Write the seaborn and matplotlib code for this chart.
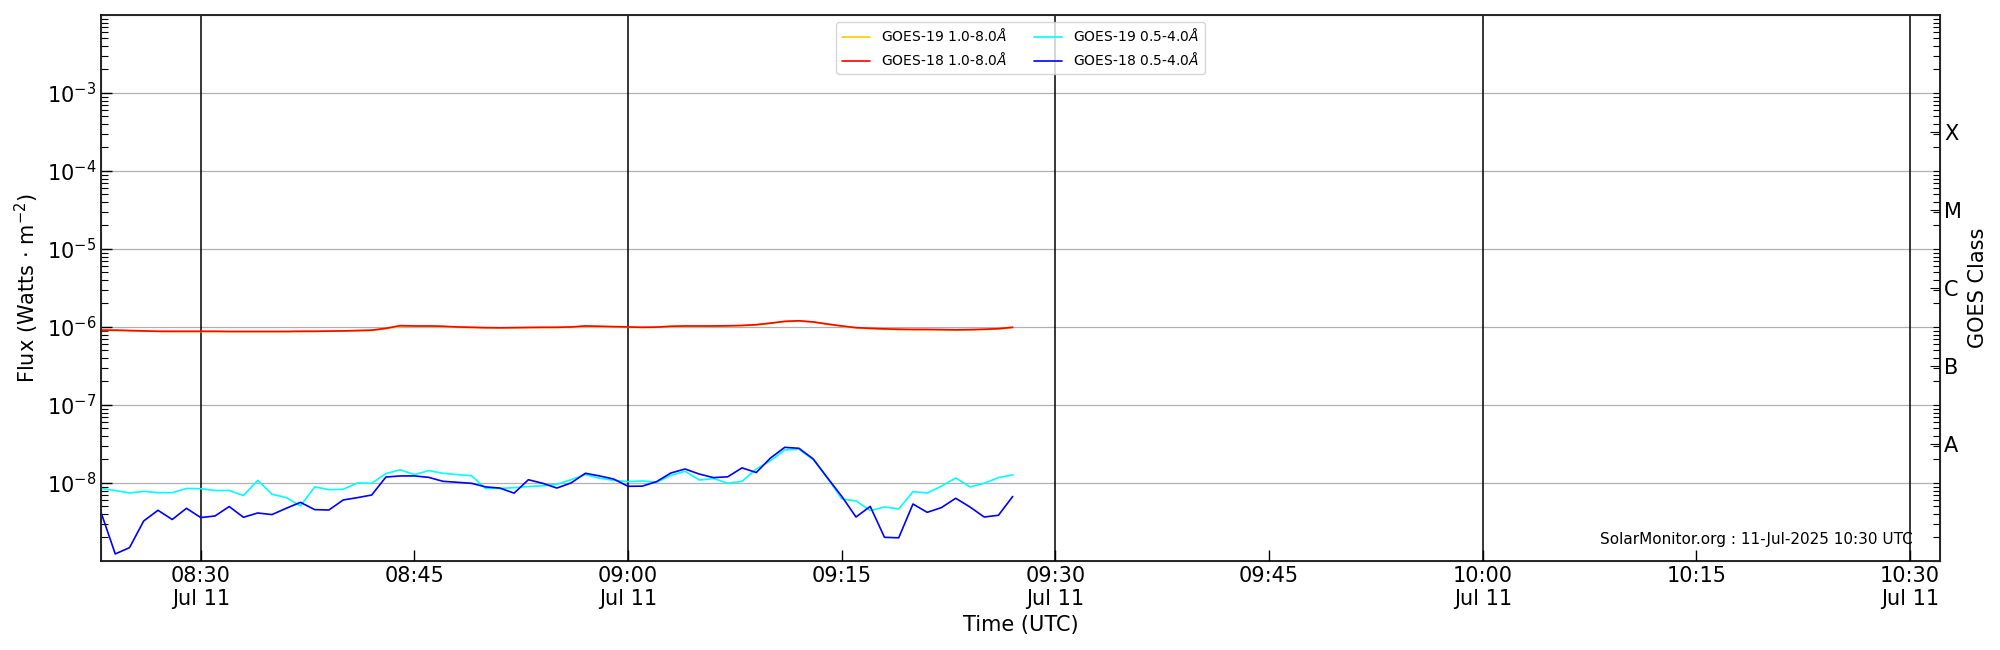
import matplotlib
matplotlib.use('Agg')
import matplotlib.pyplot as plt
import matplotlib.dates as mdates
from matplotlib.ticker import FixedLocator, LogLocator, NullFormatter
import numpy as np
import pandas as pd
import seaborn as sns

# 1-minute GOES XRS samples, 08:23 - 09:27 UTC on 11 Jul 2025
times = pd.date_range('2025-07-11 08:23', periods=65, freq='1min')

# GOES-19 1.0-8.0 A (x 1e-6 W/m^2)
g19_long = [0.90, 0.90, 0.89, 0.88, 0.875, 0.87, 0.87, 0.87, 0.87, 0.87,
            0.87, 0.87, 0.87, 0.87, 0.875, 0.875, 0.88, 0.885, 0.89, 0.90,
            0.95, 1.02, 1.02, 1.02, 1.01, 0.99, 0.98, 0.97, 0.97, 0.97,
            0.98, 0.98, 0.985, 0.99, 1.02, 1.01, 1.00, 0.99, 0.985, 0.99,
            1.01, 1.02, 1.02, 1.02, 1.03, 1.04, 1.06, 1.11, 1.17, 1.19,
            1.15, 1.08, 1.02, 0.97, 0.95, 0.935, 0.925, 0.92, 0.92, 0.915,
            0.91, 0.915, 0.925, 0.94, 0.98]
# GOES-18 1.0-8.0 A (x 1e-6 W/m^2)
g18_long = [0.91, 0.91, 0.90, 0.89, 0.88, 0.88, 0.88, 0.88, 0.88, 0.875,
            0.875, 0.875, 0.875, 0.875, 0.88, 0.88, 0.885, 0.89, 0.90, 0.91,
            0.96, 1.04, 1.03, 1.03, 1.02, 1.00, 0.99, 0.98, 0.975, 0.98,
            0.985, 0.99, 0.99, 1.00, 1.03, 1.02, 1.01, 1.00, 0.99, 0.995,
            1.02, 1.03, 1.03, 1.03, 1.035, 1.045, 1.07, 1.12, 1.18, 1.20,
            1.16, 1.09, 1.03, 0.98, 0.96, 0.945, 0.935, 0.93, 0.93, 0.925,
            0.92, 0.925, 0.935, 0.95, 0.99]
# GOES-19 0.5-4.0 A (x 1e-9 W/m^2)
g19_short = [8.5, 7.98, 7.44, 7.8, 7.5, 7.5, 8.5, 8.45, 8.0, 8.0,
             6.9, 10.8, 7.16, 6.5, 5.07, 8.9, 8.2, 8.3, 10.0, 9.9,
             13.2, 14.7, 12.8, 14.4, 13.3, 12.8, 12.4, 8.5, 8.5, 8.7,
             9.0, 9.2, 9.6, 11.0, 12.8, 11.5, 10.8, 10.4, 10.6, 10.2,
             12.5, 14.1, 10.9, 11.4, 9.9, 10.5, 15.1, 19.3, 26.5, 27.0,
             19.9, 11.6, 6.24, 5.88, 4.42, 4.92, 4.64, 7.74, 7.44, 9.1,
             11.6, 8.9, 9.9, 11.7, 12.7]
# GOES-18 0.5-4.0 A (x 1e-9 W/m^2)
g18_short = [4.2, 1.23, 1.48, 3.26, 4.46, 3.4, 4.73, 3.6, 3.77, 4.98,
             3.63, 4.12, 3.93, 4.73, 5.64, 4.55, 4.5, 6.05, 6.48, 7.0,
             11.9, 12.3, 12.3, 11.8, 10.5, 10.2, 9.9, 8.9, 8.6, 7.4,
             11.0, 9.9, 8.6, 10.0, 13.3, 12.3, 11.2, 9.06, 9.1, 10.4,
             13.4, 15.1, 13.0, 11.7, 12.0, 15.6, 13.6, 20.9, 28.6, 27.8,
             20.3, 11.6, 6.74, 3.66, 5.0, 2.01, 1.98, 5.37, 4.2, 4.83,
             6.36, 4.92, 3.66, 3.85, 6.7]

channels = ['GOES-19 1.0-8.0$\\AA$', 'GOES-18 1.0-8.0$\\AA$',
            'GOES-19 0.5-4.0$\\AA$', 'GOES-18 0.5-4.0$\\AA$']
colors = ['#ffcc00', 'red', 'cyan', 'blue']
class_labels = ['A', 'B', 'C', 'M', 'X']

df = pd.concat([
    pd.DataFrame({'time': times, 'flux': np.array(g19_long) * 1e-6, 'channel': channels[0]}),
    pd.DataFrame({'time': times, 'flux': np.array(g18_long) * 1e-6, 'channel': channels[1]}),
    pd.DataFrame({'time': times, 'flux': np.array(g19_short) * 1e-9, 'channel': channels[2]}),
    pd.DataFrame({'time': times, 'flux': np.array(g18_short) * 1e-9, 'channel': channels[3]}),
])

sns.set_style('white')
plt.rcParams['font.family'] = ['DejaVu Sans']
plt.rcParams['text.color'] = 'black'
plt.rcParams['axes.labelcolor'] = 'black'
plt.rcParams['xtick.color'] = 'black'
plt.rcParams['ytick.color'] = 'black'

fig = plt.figure(figsize=(20, 6.5), dpi=100)
ax = fig.add_axes([0.0505, 0.137, 0.9195, 0.84])

sns.lineplot(data=df, x='time', y='flux', hue='channel', hue_order=channels,
             palette=colors, linewidth=1.2, legend=False, ax=ax)
handles = ax.get_lines()[:4]
ax.legend(handles, channels, loc='upper center', ncol=2, fontsize=10,
          frameon=True, fancybox=True, framealpha=0.8, edgecolor='#cccccc')

ax.set_yscale('log')
ax.set_ylim(1e-9, 1e-2)
t0 = times[0]
t1 = pd.Timestamp('2025-07-11 10:32:06')
ax.set_xlim(t0, t1)

# half-hour reference lines
for t in pd.date_range('2025-07-11 08:30', '2025-07-11 10:30', freq='30min'):
    ax.axvline(t, color='black', lw=1.1, zorder=1)

ax.set_yticks([1e-8, 1e-7, 1e-6, 1e-5, 1e-4, 1e-3])
ax.yaxis.set_minor_locator(LogLocator(base=10, subs=np.arange(2, 10)))
ax.yaxis.set_minor_formatter(NullFormatter())
ax.grid(axis='y', which='major', color='#b0b0b0', lw=0.9)
ax.grid(axis='x', visible=False)

ax.xaxis.set_major_locator(mdates.MinuteLocator(byminute=[0, 15, 30, 45]))
def fmt_time(x, pos=None):
    d = mdates.num2date(x)
    if d.minute in (0, 30):
        return d.strftime('%H:%M') + '\n' + d.strftime('%b %d')
    return d.strftime('%H:%M')
ax.xaxis.set_major_formatter(plt.FuncFormatter(fmt_time))

ax.tick_params(axis='both', which='major', direction='in', length=8, width=1,
               labelsize=15, color='black')
ax.tick_params(axis='y', which='minor', direction='in', length=5, width=0.8, left=True)
ax.tick_params(axis='x', which='both', bottom=True, top=False)
ax.tick_params(axis='y', which='both', left=True, right=False)
for s in ax.spines.values():
    s.set_color('black')
    s.set_linewidth(1.2)

ax.set_xlabel('Time (UTC)', fontsize=15)
ax.set_ylabel('Flux (Watts $\\cdot$ m$^{-2}$)', fontsize=15)

ax2 = ax.twinx()
ax2.set_yscale('log')
ax2.set_ylim(ax.get_ylim())
ax2.yaxis.set_major_locator(FixedLocator([10 ** -7.5, 10 ** -6.5, 10 ** -5.5, 10 ** -4.5, 10 ** -3.5]))
ax2.set_yticklabels(class_labels)
ax2.yaxis.set_minor_locator(LogLocator(base=10, subs=np.arange(1, 10)))
ax2.yaxis.set_minor_formatter(NullFormatter())
ax2.tick_params(axis='y', which='major', direction='in', length=7, labelsize=15,
                right=True, pad=3)
ax2.tick_params(axis='y', which='minor', direction='in', length=5, width=0.8, right=True)
ax2.set_ylabel('GOES Class', fontsize=15)
ax2.grid(False)

ax.text(0.985, 0.025, 'SolarMonitor.org : 11-Jul-2025 10:30 UTC', transform=ax.transAxes,
        ha='right', va='bottom', fontsize=11, zorder=0)

fig.savefig('out.png', dpi=100)
